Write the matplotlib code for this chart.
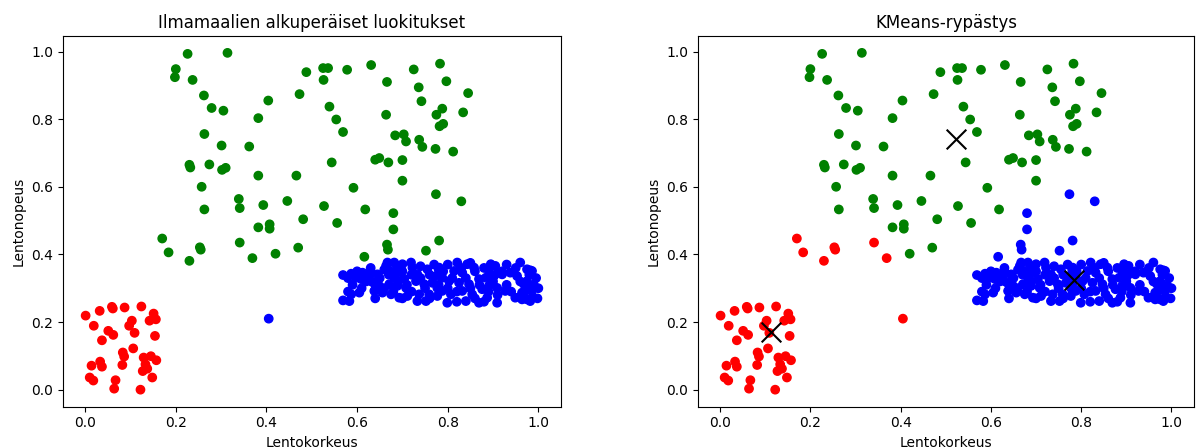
import numpy as np
import matplotlib
matplotlib.use("Agg")
import matplotlib.pyplot as plt

# alkuperaiset ryhmat (luettu kuvasta)
red_x = [0.001, 0.019, 0.032, 0.059, 0.061, 0.087, 0.124, 0.151, 0.142, 0.156,
         0.103, 0.097, 0.109, 0.051, 0.062, 0.037, 0.154, 0.106, 0.083, 0.086,
         0.082, 0.014, 0.033, 0.037, 0.129, 0.145, 0.157, 0.133, 0.127, 0.137,
         0.010, 0.018, 0.067, 0.064, 0.122, 0.148]
red_y = [0.219, 0.189, 0.233, 0.245, 0.240, 0.243, 0.246, 0.225, 0.204, 0.208,
         0.204, 0.189, 0.168, 0.174, 0.162, 0.146, 0.159, 0.122, 0.110, 0.098,
         0.073, 0.071, 0.083, 0.068, 0.095, 0.099, 0.087, 0.075, 0.055, 0.062,
         0.036, 0.027, 0.028, 0.003, 0.000, 0.036]

green_x = [0.226, 0.314, 0.200, 0.198, 0.237, 0.262, 0.279, 0.305, 0.404, 0.382,
           0.473, 0.488, 0.525, 0.536, 0.526, 0.578, 0.539, 0.554, 0.569, 0.263,
           0.301, 0.362, 0.230, 0.232, 0.274, 0.302, 0.310, 0.382, 0.466, 0.544,
           0.257, 0.263, 0.339, 0.341, 0.393, 0.446, 0.527, 0.481, 0.556, 0.382,
           0.407, 0.407, 0.170, 0.184, 0.253, 0.255, 0.230, 0.341, 0.369, 0.420,
           0.470,
           0.631, 0.725, 0.783, 0.666, 0.736, 0.797, 0.845, 0.742, 0.664, 0.775,
           0.788, 0.834, 0.782, 0.790, 0.684, 0.703, 0.708, 0.737, 0.744, 0.773,
           0.812, 0.640, 0.649, 0.669, 0.700, 0.700, 0.592, 0.774, 0.830, 0.618,
           0.680, 0.680, 0.666, 0.668, 0.781, 0.752, 0.616]
green_y = [0.993, 0.996, 0.948, 0.924, 0.916, 0.870, 0.833, 0.825, 0.855, 0.803,
           0.874, 0.939, 0.951, 0.951, 0.916, 0.946, 0.837, 0.799, 0.762, 0.756,
           0.722, 0.719, 0.665, 0.657, 0.666, 0.650, 0.656, 0.633, 0.633, 0.672,
           0.600, 0.533, 0.564, 0.537, 0.546, 0.558, 0.543, 0.504, 0.493, 0.480,
           0.489, 0.476, 0.447, 0.406, 0.421, 0.414, 0.381, 0.435, 0.389, 0.402,
           0.420,
           0.960, 0.947, 0.964, 0.910, 0.894, 0.912, 0.877, 0.853, 0.813, 0.813,
           0.831, 0.820, 0.779, 0.786, 0.752, 0.755, 0.734, 0.739, 0.718, 0.712,
           0.704, 0.680, 0.685, 0.672, 0.679, 0.618, 0.597, 0.578, 0.557, 0.533,
           0.522, 0.474, 0.429, 0.414, 0.441, 0.411, 0.393]

blue_x = [0.569, 0.587, 0.580, 0.598, 0.612, 0.609, 0.627, 0.645, 0.633, 0.569,
          0.587, 0.605, 0.583, 0.638, 0.656, 0.649, 0.667, 0.664, 0.682, 0.700,
          0.719, 0.722, 0.675, 0.693, 0.682, 0.704, 0.671, 0.689, 0.708, 0.730,
          0.733, 0.675, 0.693, 0.711, 0.737, 0.733, 0.755, 0.748, 0.766, 0.774,
          0.781, 0.759, 0.777, 0.752,
          0.821, 0.843, 0.858, 0.814, 0.832, 0.788, 0.803, 0.825, 0.847, 0.869,
          0.895, 0.905, 0.891, 0.884, 0.902, 0.920, 0.938, 0.953, 0.960, 0.975,
          0.986, 0.788, 0.807, 0.832, 0.854, 0.876, 0.891, 0.909, 0.927, 0.799,
          0.840, 0.869, 0.887, 0.909, 0.968, 0.964, 0.982, 0.975, 0.986, 0.949,
          0.777, 0.982, 0.975, 0.986, 0.982, 0.964, 1.000, 0.998, 0.995,
          0.59, 0.61, 0.62, 0.64, 0.60, 0.63, 0.65, 0.66, 0.67, 0.68,
          0.69, 0.70, 0.71, 0.72, 0.72, 0.74, 0.75, 0.76, 0.77, 0.78,
          0.79, 0.80, 0.80, 0.81, 0.82, 0.83, 0.84, 0.85, 0.86, 0.86,
          0.87, 0.88, 0.89, 0.90, 0.91, 0.92, 0.93, 0.94, 0.95, 0.96,
          0.97, 0.98, 0.99, 0.93, 0.88, 0.82, 0.76, 0.70, 0.64, 0.58,
          0.85, 0.74, 0.69, 0.63, 0.91, 0.96, 0.78, 0.66,
          0.405]
blue_y = [0.339, 0.343, 0.330, 0.331, 0.346, 0.327, 0.336, 0.341, 0.319, 0.264,
          0.282, 0.287, 0.262, 0.292, 0.287, 0.307, 0.376, 0.366, 0.376, 0.371,
          0.376, 0.361, 0.351, 0.346, 0.331, 0.327, 0.312, 0.307, 0.301, 0.321,
          0.341, 0.282, 0.272, 0.277, 0.282, 0.262, 0.356, 0.312, 0.316, 0.336,
          0.361, 0.282, 0.277, 0.262,
          0.376, 0.371, 0.361, 0.351, 0.346, 0.331, 0.321, 0.316, 0.312, 0.327,
          0.371, 0.366, 0.351, 0.331, 0.336, 0.341, 0.346, 0.336, 0.376, 0.356,
          0.351, 0.292, 0.282, 0.292, 0.282, 0.297, 0.307, 0.301, 0.292, 0.257,
          0.262, 0.257, 0.272, 0.257, 0.312, 0.287, 0.297, 0.267, 0.272, 0.272,
          0.301, 0.353, 0.321, 0.292, 0.262, 0.267, 0.300, 0.270, 0.330,
          0.31, 0.30, 0.32, 0.31, 0.35, 0.36, 0.33, 0.30, 0.34, 0.29,
          0.32, 0.35, 0.31, 0.29, 0.34, 0.33, 0.30, 0.34, 0.37, 0.31,
          0.35, 0.30, 0.37, 0.33, 0.29, 0.36, 0.33, 0.30, 0.35, 0.27,
          0.31, 0.36, 0.29, 0.32, 0.28, 0.35, 0.31, 0.29, 0.36, 0.32,
          0.29, 0.34, 0.31, 0.37, 0.26, 0.26, 0.27, 0.27, 0.27, 0.29,
          0.375, 0.365, 0.36, 0.35, 0.345, 0.275, 0.355, 0.355,
          0.210]

# KMeans-keskipisteet (luettu kuvasta)
cent_x = [0.112, 0.522, 0.785]
cent_y = [0.172, 0.740, 0.325]
colors = ['red', 'green', 'blue']

x = np.array(red_x + green_x + blue_x)
y = np.array(red_y + green_y + blue_y)
orig = np.array([0] * len(red_x) + [1] * len(green_x) + [2] * len(blue_x))

# lahin keskipiste = ryppaan tunnus
d = (x[:, None] - np.array(cent_x)) ** 2 + (y[:, None] - np.array(cent_y)) ** 2
km = d.argmin(axis=1)

fig = plt.figure(figsize=(12, 4.48), dpi=100)
ax1 = fig.add_axes([0.0525, 0.0926, 0.415, 0.827])
ax2 = fig.add_axes([0.5817, 0.0926, 0.4133, 0.827])

ax1.scatter(x, y, c=[colors[i] for i in orig])
ax1.set_title('Ilmamaalien alkuperäiset luokitukset')
ax1.set_xlabel('Lentokorkeus')
ax1.set_ylabel('Lentonopeus')

ax2.scatter(x, y, c=[colors[i] for i in km])
ax2.scatter(cent_x, cent_y, marker='x', s=200, c='black', linewidths=1.5)
ax2.set_title('KMeans-rypästys')
ax2.set_xlabel('Lentokorkeus')
ax2.set_ylabel('Lentonopeus')

fig.savefig('out.png')
